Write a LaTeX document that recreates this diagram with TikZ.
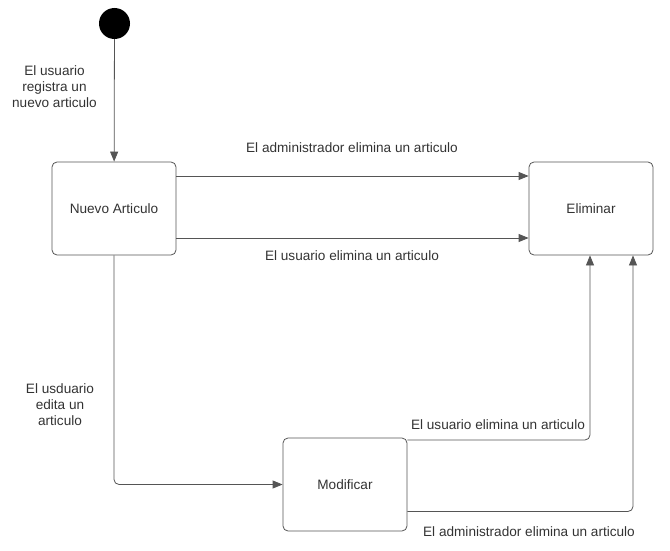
\documentclass[tikz,border=0pt]{standalone}
\usepackage{fontspec}
\setmainfont{Liberation Sans}
\usetikzlibrary{arrows.meta,positioning}

\definecolor{linea}{HTML}{555555}
\definecolor{texto}{HTML}{333333}

\begin{document}
\begin{tikzpicture}[x=1pt,y=-1pt,
    estado/.style={draw=linea, thick, rounded corners=5pt, minimum width=124pt,
        minimum height=93pt, fill=white, text=texto, font=\fontsize{13.6}{16}\selectfont},
    flecha/.style={draw=linea, thick, -{Triangle[length=10pt,width=8pt]}},
    etiqueta/.style={text=texto, align=center, font=\fontsize{13.6}{16}\selectfont}]
    \useasboundingbox (0,0) rectangle (670,551);

		% estados
		\node [circle, fill=black, minimum size=31pt, inner sep=0pt] (inicio) at (114.5,23.5) {};
		\node [estado] (nuevo) at (114,208.5) {Nuevo Articulo};
		\node [estado] (eliminar) at (591,208.5) {Eliminar};
		\node [estado] (modificar) at (345,484.5) {Modificar};
		
		% transiciones
		\draw [flecha] (inicio) -- (nuevo);
		\draw [flecha] ([yshift=32.5pt]nuevo.east) -- ([yshift=32.5pt]eliminar.west);
		\draw [flecha] ([yshift=-29.5pt]nuevo.east) -- ([yshift=-29.5pt]eliminar.west);
		\draw [flecha, rounded corners=5pt] (nuevo.south) |- (modificar.west);
		\draw [flecha, rounded corners=5pt] ([yshift=44.5pt]modificar.east) -| ([xshift=-1pt]eliminar.south);
		\draw [flecha, rounded corners=5pt] ([yshift=-27pt]modificar.east) -| ([xshift=42pt]eliminar.south);
		
		% etiquetas
		\node [etiqueta] (registra) at (54.5,87) {El usuario\\registra un\\nuevo articulo};
		\node [etiqueta] (edita) at (60,405) {El usduario\\edita un\\articulo};
		\node [etiqueta] (admin1) at (352,148) {El administrador elimina un articulo};
		\node [etiqueta] (usuario1) at (352,256) {El usuario elimina un articulo};
		\node [etiqueta] (usuario2) at (498,425) {El usuario elimina un articulo};
		\node [etiqueta] (admin2) at (529,532) {El administrador elimina un articulo};
		
\end{tikzpicture}
\end{document}
